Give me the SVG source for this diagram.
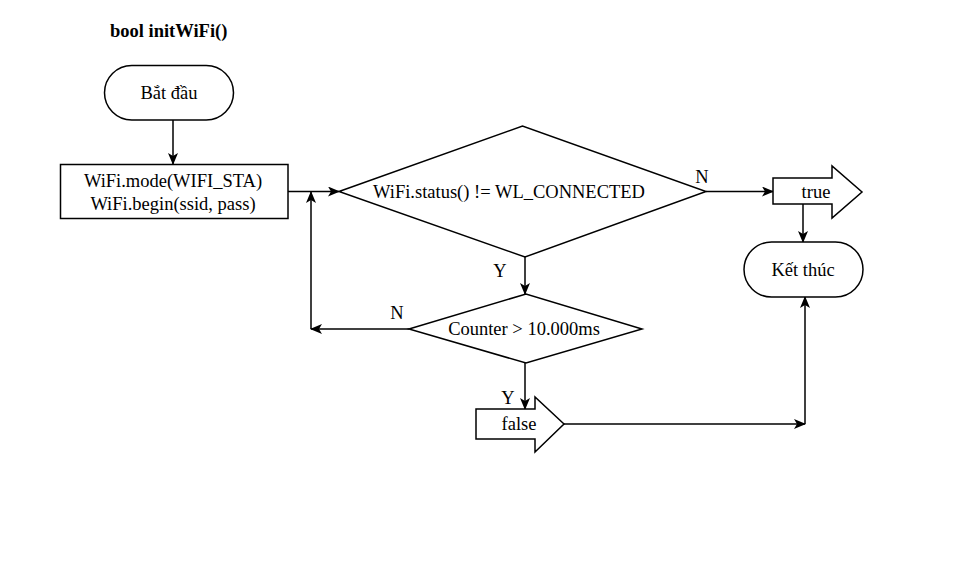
<svg xmlns="http://www.w3.org/2000/svg" width="977" height="570" viewBox="0 0 977 570">
<style>
.s{fill:#fff;stroke:#000;stroke-width:1.5}
.t{font-family:"Liberation Serif","Times New Roman",serif;font-size:18.5px;fill:#000;text-anchor:middle}
.c{fill:none;stroke:#000;stroke-width:1.5}
</style>
<defs>
<marker id="a" viewBox="0 0 12 10" refX="11" refY="5" markerWidth="12" markerHeight="10" markerUnits="userSpaceOnUse" orient="auto">
<path d="M0,0 L12,5 L0,10 L3,5 z" fill="#000"/>
</marker>
</defs>
<rect width="977" height="570" fill="#fff"/>
<text x="110" y="37" class="t" style="font-weight:bold;text-anchor:start">bool initWiFi()</text>
<g id="connectors">
<line class="c" x1="173" y1="120" x2="173" y2="164" marker-end="url(#a)"/>
<line class="c" x1="288" y1="191.5" x2="339" y2="191.5" marker-end="url(#a)"/>
<line class="c" x1="706" y1="191.5" x2="773" y2="191.5" marker-end="url(#a)"/>
<line class="c" x1="803" y1="204" x2="803" y2="242" marker-end="url(#a)"/>
<line class="c" x1="525" y1="257" x2="525" y2="294" marker-end="url(#a)"/>
<line class="c" x1="409" y1="329" x2="311" y2="329" marker-end="url(#a)"/>
<line class="c" x1="311" y1="329" x2="311" y2="192" marker-end="url(#a)"/>
<line class="c" x1="525" y1="363" x2="525" y2="409" marker-end="url(#a)"/>
<line class="c" x1="564" y1="424" x2="805" y2="424" marker-end="url(#a)"/>
<line class="c" x1="805" y1="424" x2="805" y2="297" marker-end="url(#a)"/>
<text x="702" y="183" class="t">N</text>
<text x="500" y="277" class="t">Y</text>
<text x="397" y="319" class="t">N</text>
<text x="508" y="404" class="t">Y</text>
</g>
<g id="start">
<rect class="s" x="104.5" y="65.5" width="129" height="54.5" rx="27.25"/>
<text x="169" y="99" class="t">Bắt đầu</text>
</g>
<g id="init">
<rect class="s" x="60.5" y="164.5" width="227.5" height="54"/>
<text x="173" y="187" class="t">WiFi.mode(WIFI_STA)</text>
<text x="173" y="210" class="t">WiFi.begin(ssid, pass)</text>
</g>
<g id="check">
<polygon class="s" points="339,191.5 522.5,126 706,191.5 525,257"/>
<text x="509" y="197.5" class="t">WiFi.status() != WL_CONNECTED</text>
</g>
<g id="counter">
<polygon class="s" points="409,329 526,294 642,329 526,363"/>
<text x="524" y="335" class="t">Counter &gt; 10.000ms</text>
</g>
<g id="true">
<polygon class="s" points="773,178 832,178 832,166 862,192 832,218 832,204 773,204"/>
<text x="816" y="198" class="t">true</text>
</g>
<g id="end">
<rect class="s" x="744" y="242" width="119" height="55" rx="27.5"/>
<text x="803" y="276" class="t">Kết thúc</text>
</g>
<g id="false">
<polygon class="s" points="476,409 535,409 535,397 564,424 535,452 535,439 476,439"/>
<text x="519" y="430" class="t">false</text>
</g>
</svg>
